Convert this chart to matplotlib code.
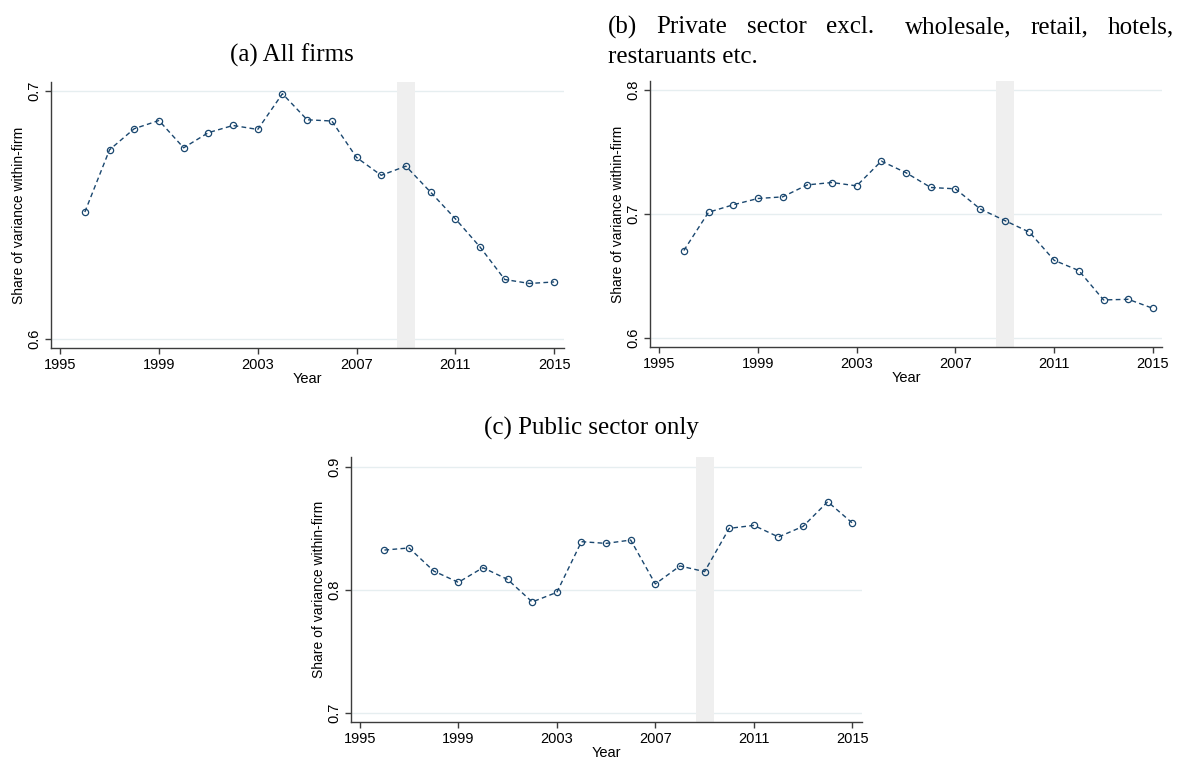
# 企業内賃金分散シェアの推移(3パネル)
import matplotlib.pyplot as plt
import numpy as np

#### -------- データ -------- ####
years = list(range(1996, 2016))

# (a) 全企業
share_all = [0.6512, 0.6763, 0.6848, 0.6881, 0.6771, 0.6832, 0.6861, 0.6845, 0.6989, 0.6884,
             0.6879, 0.6732, 0.6660, 0.6697, 0.6592, 0.6485, 0.6371, 0.6240, 0.6224, 0.6230]
# (b) 民間(卸売・小売・ホテル・飲食を除く)
share_private = [0.6704, 0.7013, 0.7073, 0.7124, 0.7137, 0.7234, 0.7253, 0.7226, 0.7426, 0.7332,
                 0.7213, 0.7202, 0.7040, 0.6946, 0.6852, 0.6625, 0.6542, 0.6305, 0.6310, 0.6237]
# (c) 公共部門のみ
share_public = [0.8324, 0.8341, 0.8154, 0.8062, 0.8181, 0.8086, 0.7903, 0.7981, 0.8392, 0.8378,
                0.8405, 0.8049, 0.8195, 0.8149, 0.8500, 0.8524, 0.8430, 0.8516, 0.8716, 0.8543]

xticks = [1995, 1999, 2003, 2007, 2011, 2015]
yticks_all = [0.6, 0.7]
yticks_private = [0.6, 0.7, 0.8]
yticks_public = [0.7, 0.8, 0.9]

CRISIS = (2008.65, 2009.37)  # 金融危機の網掛け

#### -------- グラフ設定 -------- ####
plt.rcParams["font.family"] = ["Liberation Sans", "DejaVu Sans"]
plt.rcParams["font.size"] = 10.5

NAVY = "#1a476f"
AXIS_C = "#3c3c3c"
GRID_C = "#e6eef0"
BAND_C = "#efefef"
W, H = 1180, 760

fig = plt.figure(figsize=(W / 100, H / 100), dpi=100)


def px_axes(left, top, right, bottom):
    return fig.add_axes([left / W, 1 - bottom / H, (right - left) / W, (bottom - top) / H])


def draw_panel(ax, y, yticks, ylim):
    ax.axvspan(*CRISIS, color=BAND_C, lw=0, zorder=1)
    ax.plot(years, y, linestyle=(0, (3.4, 2.4)), lw=1.0, color=NAVY,
            marker="o", markersize=4.5, markerfacecolor="none",
            markeredgecolor=NAVY, markeredgewidth=0.9, zorder=3)
    ax.set_xlim(1994.63, 2015.38)
    ax.set_ylim(*ylim)
    ax.set_xticks(xticks)
    ax.set_yticks(yticks)
    ax.set_yticklabels([f"{t:.1f}" for t in yticks], rotation=90, va="center")
    ax.grid(axis="y", color=GRID_C, lw=1.0, zorder=0.5)
    ax.set_axisbelow(True)
    for s in ["top", "right"]:
        ax.spines[s].set_visible(False)
    for s in ["left", "bottom"]:
        ax.spines[s].set_color(AXIS_C)
        ax.spines[s].set_linewidth(1.0)
    ax.tick_params(direction="out", length=4, width=1, color=AXIS_C, pad=3, labelsize=10.5)
    ax.set_xlabel("Year", fontsize=10.5, labelpad=0)
    ax.set_ylabel("Share of variance within-firm", fontsize=10, labelpad=1)


#### -------- 各パネル -------- ####
ax1 = px_axes(51, 82, 563.5, 348.3)
draw_panel(ax1, share_all, yticks_all, (0.59625, 0.70363))

ax2 = px_axes(650, 81, 1162.3, 347)
draw_panel(ax2, share_private, yticks_private, (0.59249, 0.80727))

ax3 = px_axes(350.7, 457.3, 861.7, 722.3)
draw_panel(ax3, share_public, yticks_public, (0.6927, 0.90762))

#### -------- タイトル -------- ####
SERIF = ["Liberation Serif", "DejaVu Serif"]
TSIZE = 18

fig.text(292 / W, 1 - 55 / H, "(a) All firms", family=SERIF, fontsize=TSIZE,
         ha="center", va="center")
fig.text(591 / W, 1 - 428 / H, "(c) Public sector only", family=SERIF, fontsize=TSIZE,
         ha="center", va="center")

# (b) は両端揃えの2行タイトル
words = ["(b)", "Private", "sector", "excl.", "wholesale,", "retail,", "hotels,"]
gap_weight = [1, 1, 1, 1.6, 1, 1]
x_start, x_end = 608, 1174
renderer = fig.canvas.get_renderer()
txts = [fig.text(0, 1 - 27 / H, w, family=SERIF, fontsize=TSIZE, ha="left", va="center")
        for w in words]
widths = [t.get_window_extent(renderer).width for t in txts]
unit = (x_end - x_start - sum(widths)) / sum(gap_weight)
x = x_start
for i, t in enumerate(txts):
    t.set_x(x / W)
    x += widths[i] + (unit * gap_weight[i] if i < len(gap_weight) else 0)

fig.text(x_start / W, 1 - 57 / H, "restaruants etc.", family=SERIF, fontsize=TSIZE,
         ha="left", va="center")

#### -------- 保存 -------- ####
fig.savefig("out.png", dpi=100)
